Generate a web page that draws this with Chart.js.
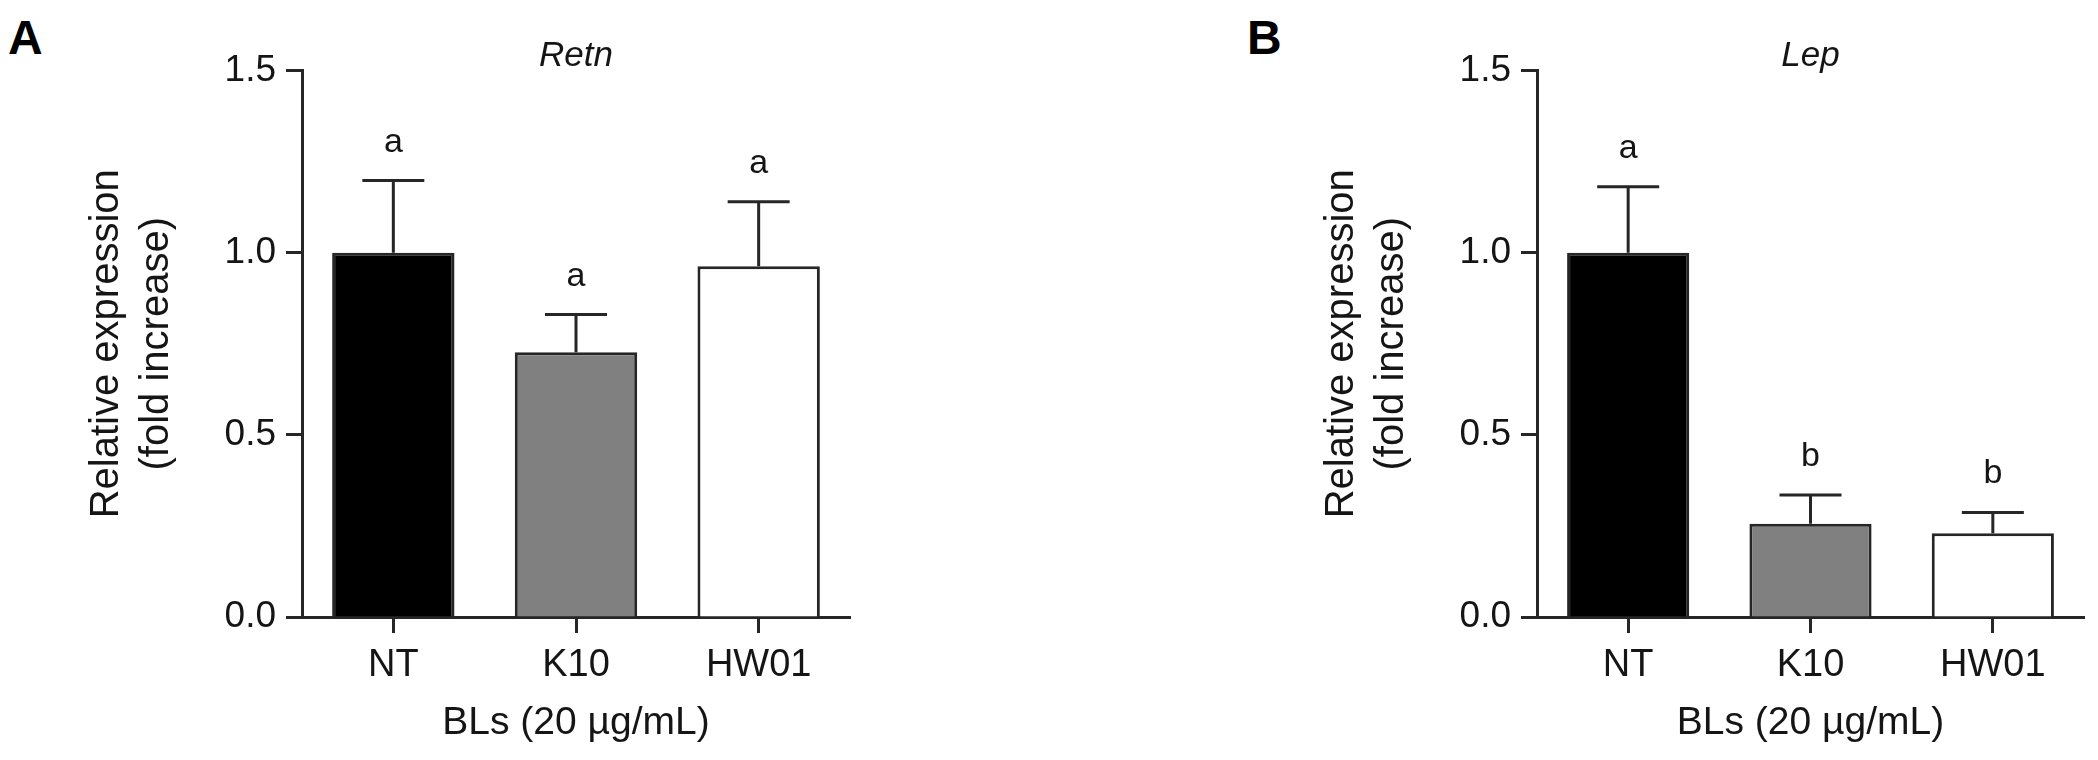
<!DOCTYPE html>
<html><head><meta charset="utf-8">
<script src="https://cdn.jsdelivr.net/npm/chart.js@4.4.1/dist/chart.umd.min.js"></script>
<style>
html,body{margin:0;padding:0;background:#fff;width:2098px;height:760px;overflow:hidden;}
.panel{position:absolute;top:0;}
.lbl{position:absolute;top:14px;font:bold 48px 'Liberation Sans',Arial,sans-serif;line-height:1;color:#000;}
</style></head><body>
<div class="lbl" style="left:8px">A</div>
<div class="lbl" style="left:1247px">B</div>
<canvas id="cA" class="panel" style="left:0px" width="900" height="760"></canvas>
<canvas id="cB" class="panel" style="left:1200px" width="898" height="760"></canvas>
<script>
const categories = ['NT', 'K10', 'HW01'];
const retnMean = [1.00, 0.727, 0.963];
const retnSem = [0.198, 0.103, 0.177];
const retnLetters = ['a', 'a', 'a'];
const lepMean = [1.00, 0.256, 0.230];
const lepSem = [0.181, 0.079, 0.057];
const lepLetters = ['a', 'b', 'b'];
const yTicks = [0, 0.5, 1.0, 1.5];
const barColors = ['#000000', '#808080', '#ffffff'];
const xTitle = 'BLs (20 µg/mL)';
const yTitle = ['Relative expression', '(fold increase)'];

const FF = "'Liberation Sans', Arial, sans-serif";
const TXT = '#151515';
const LINE = '#262626';

const errPlugin = {
  id: 'errbars',
  afterDatasetsDraw(chart, args, opts) {
    const ctx = chart.ctx;
    const y = chart.scales.y;
    const meta = chart.getDatasetMeta(0);
    const vals = chart.data.datasets[0].data;
    ctx.save();
    ctx.strokeStyle = LINE;
    ctx.lineWidth = 3;
    meta.data.forEach((bar, i) => {
      const top = y.getPixelForValue(vals[i] + opts.sem[i]);
      const base = y.getPixelForValue(vals[i]);
      ctx.beginPath();
      ctx.moveTo(bar.x, base);
      ctx.lineTo(bar.x, top);
      ctx.moveTo(bar.x - 31, top);
      ctx.lineTo(bar.x + 31, top);
      ctx.stroke();
      ctx.fillStyle = TXT;
      ctx.font = '34px ' + FF;
      ctx.textAlign = 'center';
      ctx.textBaseline = 'alphabetic';
      ctx.fillText(opts.letters[i], bar.x, top - 29);
    });
    ctx.restore();
  }
};

function makeChart(id, title, mean, sem, letters, areaLeft, padRight, yTitlePad) {
  return new Chart(document.getElementById(id), {
    type: 'bar',
    data: {
      labels: categories,
      datasets: [{
        data: mean,
        backgroundColor: barColors,
        borderColor: LINE,
        borderWidth: 3,
        barPercentage: 0.67,
        categoryPercentage: 1.0
      }]
    },
    options: {
      responsive: false,
      animation: false,
      devicePixelRatio: 1,
      layout: { padding: { left: 0, right: padRight, top: 0, bottom: 0 } },
      plugins: {
        legend: { display: false },
        tooltip: { enabled: false },
        title: {
          display: true, text: title, fullSize: false, color: TXT,
          font: { family: FF, size: 35, style: 'italic', weight: 'normal', lineHeight: 0.7 },
          padding: { top: 44, bottom: 2 }
        },
        errbars: { sem: sem, letters: letters }
      },
      scales: {
        x: {
          type: 'category',
          offset: true,
          grid: { display: true, offset: false, drawOnChartArea: false, drawTicks: true, tickLength: 16, tickWidth: 3, tickColor: LINE },
          border: { display: true, color: LINE, width: 3 },
          ticks: { color: TXT, font: { family: FF, size: 38 }, padding: 10, maxRotation: 0, autoSkip: false },
          title: { display: true, text: xTitle, color: TXT, font: { family: FF, size: 39 }, padding: { top: 0, bottom: 13 } },
          afterFit: s => { s.height = 143; }
        },
        y: {
          min: 0, max: 1.5,
          afterBuildTicks: s => { s.ticks = yTicks.map(v => ({ value: v })); },
          grid: { display: true, drawOnChartArea: false, drawTicks: true, tickLength: 16, tickWidth: 3, tickColor: LINE },
          border: { display: true, color: LINE, width: 3 },
          ticks: { color: TXT, font: { family: FF, size: 37 }, padding: 10, callback: v => Number(v).toFixed(1) },
          title: { display: true, text: yTitle, color: TXT, font: { family: FF, size: 40, lineHeight: 1.25 }, padding: { top: yTitlePad, bottom: 0 } },
          afterFit: s => { s.width = areaLeft; }
        }
      }
    },
    plugins: [errPlugin]
  });
}

makeChart('cA', 'Retn', retnMean, retnSem, retnLetters, 302, 50, 82);
makeChart('cB', 'Lep', lepMean, lepSem, lepLetters, 337, 14, 117);
</script>
</body></html>
